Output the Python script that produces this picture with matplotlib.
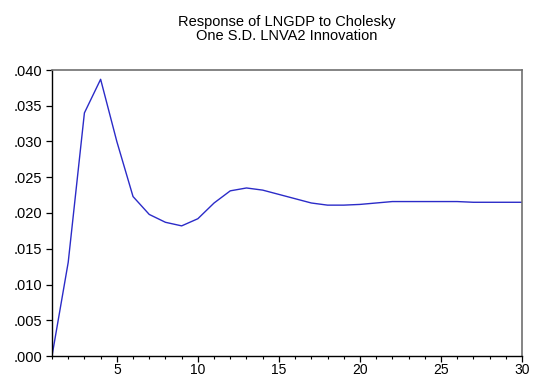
import matplotlib.pyplot as plt
from matplotlib.ticker import MultipleLocator, FuncFormatter

plt.rcParams['font.family'] = ['Liberation Sans', 'DejaVu Sans']

periods = list(range(1, 31))
response = [0.0000, 0.0131, 0.0340, 0.0387, 0.0300, 0.0223, 0.0198, 0.0187,
            0.0182, 0.0192, 0.0214, 0.0231, 0.0235, 0.0232, 0.0226, 0.0220,
            0.0214, 0.0211, 0.0211, 0.0212, 0.0214, 0.0216, 0.0216, 0.0216,
            0.0216, 0.0216, 0.0215, 0.0215, 0.0215, 0.0215]

fig = plt.figure(figsize=(5.33, 3.78), dpi=100)
ax = fig.add_axes([52 / 533, 22 / 378, 470 / 533, 286 / 378])

ax.plot(periods, response, color='#2b2bc8', linewidth=1.0)

ax.set_xlim(1, 30)
ax.set_ylim(0, 0.04)

ax.xaxis.set_major_locator(MultipleLocator(5))
ax.xaxis.set_minor_locator(MultipleLocator(1))
ax.yaxis.set_major_locator(MultipleLocator(0.005))
ax.yaxis.set_major_formatter(FuncFormatter(lambda v, p: ('%.3f' % v).lstrip('0')))

ax.tick_params(axis='both', which='major', direction='out', length=4, width=0.9,
               labelsize=10.5, colors='black')
ax.tick_params(axis='y', which='major', pad=3)
ax.tick_params(axis='x', which='major', pad=1, labelsize=10)
ax.tick_params(axis='x', which='minor', direction='out', length=2, width=0.8)
ax.tick_params(axis='y', which='minor', left=False)

for side in ['left', 'bottom']:
    ax.spines[side].set_color('black')
    ax.spines[side].set_linewidth(1.0)
for side in ['top', 'right']:
    ax.spines[side].set_color('#707070')
    ax.spines[side].set_linewidth(1.2)

fig.text(287 / 533, 1 - 29 / 378,
         'Response of LNGDP to Cholesky\nOne S.D. LNVA2 Innovation',
         ha='center', va='center', fontsize=10.5, linespacing=1.05)

fig.savefig('out.png', dpi=100)
